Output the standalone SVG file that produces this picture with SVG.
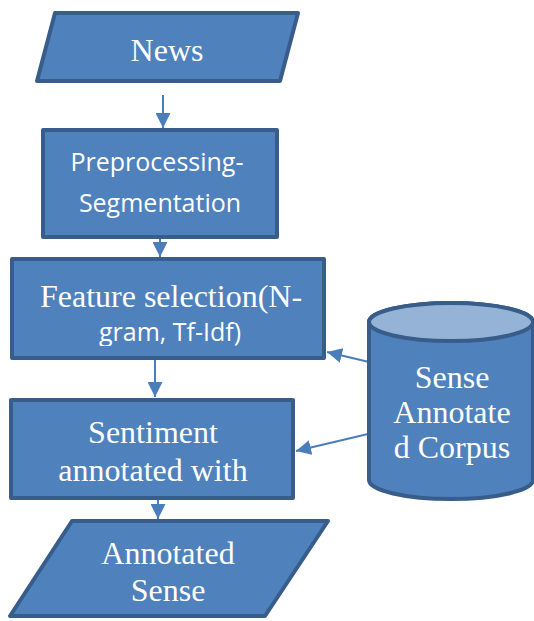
<svg xmlns="http://www.w3.org/2000/svg" width="534" height="621" viewBox="0 0 534 621">
<style>
.n{fill:#4f81bd;stroke:#385d8a;stroke-width:4;stroke-linejoin:round}
.t{fill:#fff;text-anchor:middle}
.s{font-family:"Liberation Serif","Times New Roman",serif;font-size:32px}
.a{font-family:"Open Sans","Liberation Sans",sans-serif;font-size:25px}
.c{stroke:#4a7ebb;stroke-width:2;fill:none}
</style>
<defs>
<marker id="ah" viewBox="0 0 10 10" refX="10" refY="5" markerWidth="15" markerHeight="15" markerUnits="userSpaceOnUse" orient="auto">
<path d="M0,0L10,5L0,10z" fill="#4a7ebb"/>
</marker>
<clipPath id="fc"><rect x="12" y="259" width="312" height="87"/></clipPath>
</defs>
<g id="connectors">
<line class="c" x1="163" y1="95" x2="163" y2="128" marker-end="url(#ah)"/>
<line class="c" x1="160" y1="238" x2="160" y2="257" marker-end="url(#ah)"/>
<line class="c" x1="155" y1="360" x2="155" y2="397" marker-end="url(#ah)"/>
<line class="c" x1="158" y1="500" x2="158" y2="519" marker-end="url(#ah)"/>
<line class="c" x1="369" y1="362" x2="327" y2="352" marker-end="url(#ah)"/>
<line class="c" x1="368" y1="434" x2="296" y2="451" marker-end="url(#ah)"/>
</g>
<g id="news">
<polygon class="n" points="55,13 298,13 280,81 37,81"/>
<text class="t s" x="167" y="61">News</text>
</g>
<g id="preprocessing">
<rect class="n" x="43" y="130" width="234" height="107"/>
<text class="t a" x="157" y="171">Preprocessing-</text>
<text class="t a" x="160" y="212">Segmentation</text>
</g>
<g id="feature">
<rect class="n" x="12" y="259" width="312" height="99"/>
<g clip-path="url(#fc)">
<text class="t s" x="171" y="307">Feature selection(N-</text>
<text class="t a" x="170" y="341">gram, Tf-Idf)</text>
</g>
</g>
<g id="sentiment">
<rect class="n" x="11" y="400" width="282" height="98"/>
<text class="t s" x="153" y="443">Sentiment</text>
<text class="t s" x="153" y="481">annotated with</text>
</g>
<g id="annotated">
<polygon class="n" points="72,521 328,521 265,616 10,616"/>
<text class="t s" x="168" y="564">Annotated</text>
<text class="t s" x="168" y="601">Sense</text>
</g>
<g id="corpus">
<path class="n" d="M369,322 L369,480 A82,19 0 0 0 533,480 L533,322 A82,19 0 0 0 369,322 Z"/>
<ellipse cx="451" cy="322" rx="82" ry="19" fill="#95b3d7" stroke="#385d8a" stroke-width="4"/>
<text class="t s" x="452" y="388">Sense</text>
<text class="t s" x="452" y="423">Annotate</text>
<text class="t s" x="452" y="458">d Corpus</text>
</g>
</svg>
